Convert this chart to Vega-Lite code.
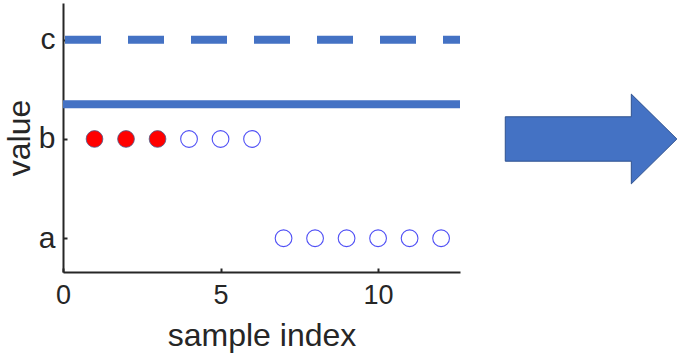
{
  "$schema": "https://vega.github.io/schema/vega-lite/v6.json",
  "autosize": {"type": "none"},
  "padding": {"left": 63, "top": 3, "right": 221, "bottom": 84},
  "width": 397,
  "height": 269,
  "background": "white",
  "config": {
    "view": {"stroke": null},
    "font": "Liberation Sans"
  },
  "datasets": {
    "samples": [
      {"index": 1, "level": 2, "group": "selected"},
      {"index": 2, "level": 2, "group": "selected"},
      {"index": 3, "level": 2, "group": "selected"},
      {"index": 4, "level": 2, "group": "other"},
      {"index": 5, "level": 2, "group": "other"},
      {"index": 6, "level": 2, "group": "other"},
      {"index": 7, "level": 1, "group": "other"},
      {"index": 8, "level": 1, "group": "other"},
      {"index": 9, "level": 1, "group": "other"},
      {"index": 10, "level": 1, "group": "other"},
      {"index": 11, "level": 1, "group": "other"},
      {"index": 12, "level": 1, "group": "other"}
    ],
    "lines": [
      {"level": 3, "kind": "dashed"},
      {"level": 2.35, "kind": "solid"}
    ],
    "arrow": [
      {"index": 16.76, "level": 2}
    ]
  },
  "layer": [
    {
      "data": {"name": "lines"},
      "mark": {"type": "rule", "strokeWidth": 8, "color": "#4472C4", "strokeCap": "butt", "strokeDashOffset": 19},
      "encoding": {
        "y": {"field": "level", "type": "quantitative"},
        "strokeDash": {
          "field": "kind", "type": "nominal",
          "scale": {"domain": ["solid", "dashed"], "range": [[1, 0], [36, 27]]},
          "legend": null
        }
      }
    },
    {
      "data": {"name": "samples"},
      "mark": {"type": "point", "shape": "circle", "size": 280, "opacity": 1},
      "encoding": {
        "x": {
          "field": "index", "type": "quantitative",
          "scale": {"domain": [0, 12.6], "nice": false, "zero": false},
          "axis": {
            "values": [0, 5, 10], "title": "sample index",
            "grid": false, "labelFlush": false,
            "domainColor": "#262626", "domainWidth": 2,
            "tickColor": "#262626", "tickWidth": 2, "tickSize": -4,
            "labelColor": "#262626", "titleColor": "#262626",
            "labelFontSize": 27, "titleFontSize": 32, "titleFontWeight": "normal",
            "labelPadding": 14, "titlePadding": 12
          }
        },
        "y": {
          "field": "level", "type": "quantitative",
          "scale": {"domain": [0.66, 3.37], "nice": false, "zero": false},
          "axis": {
            "values": [1, 2, 3],
            "labelExpr": "datum.value == 1 ? 'a' : datum.value == 2 ? 'b' : 'c'",
            "title": "value",
            "grid": false, "labelFlush": false,
            "domainColor": "#262626", "domainWidth": 2,
            "tickColor": "#262626", "tickWidth": 2, "tickSize": -4,
            "labelColor": "#262626", "titleColor": "#262626",
            "labelFontSize": 30, "titleFontSize": 32, "titleFontWeight": "normal",
            "labelPadding": 12, "titlePadding": 2
          }
        },
        "fill": {
          "field": "group", "type": "nominal",
          "scale": {"domain": ["selected", "other"], "range": ["#FF0000", "transparent"]},
          "legend": null
        },
        "stroke": {
          "field": "group", "type": "nominal",
          "scale": {"domain": ["selected", "other"], "range": ["#4a5f8f", "#5050F5"]},
          "legend": null
        },
        "strokeWidth": {
          "field": "group", "type": "nominal",
          "scale": {"domain": ["selected", "other"], "range": [0.8, 1.1]},
          "legend": null
        }
      }
    },
    {
      "data": {"name": "arrow"},
      "mark": {
        "type": "point",
        "clip": false,
        "filled": true,
        "opacity": 1,
        "shape": "M -1 -0.259 L 0.469 -0.259 L 0.469 -0.523 L 1 0 L 0.469 0.523 L 0.469 0.259 L -1 0.259 Z",
        "size": 29446,
        "fill": "#4472C4",
        "stroke": "#2F528F",
        "strokeWidth": 1
      },
      "encoding": {
        "x": {"field": "index", "type": "quantitative"},
        "y": {"field": "level", "type": "quantitative"}
      }
    }
  ]
}
